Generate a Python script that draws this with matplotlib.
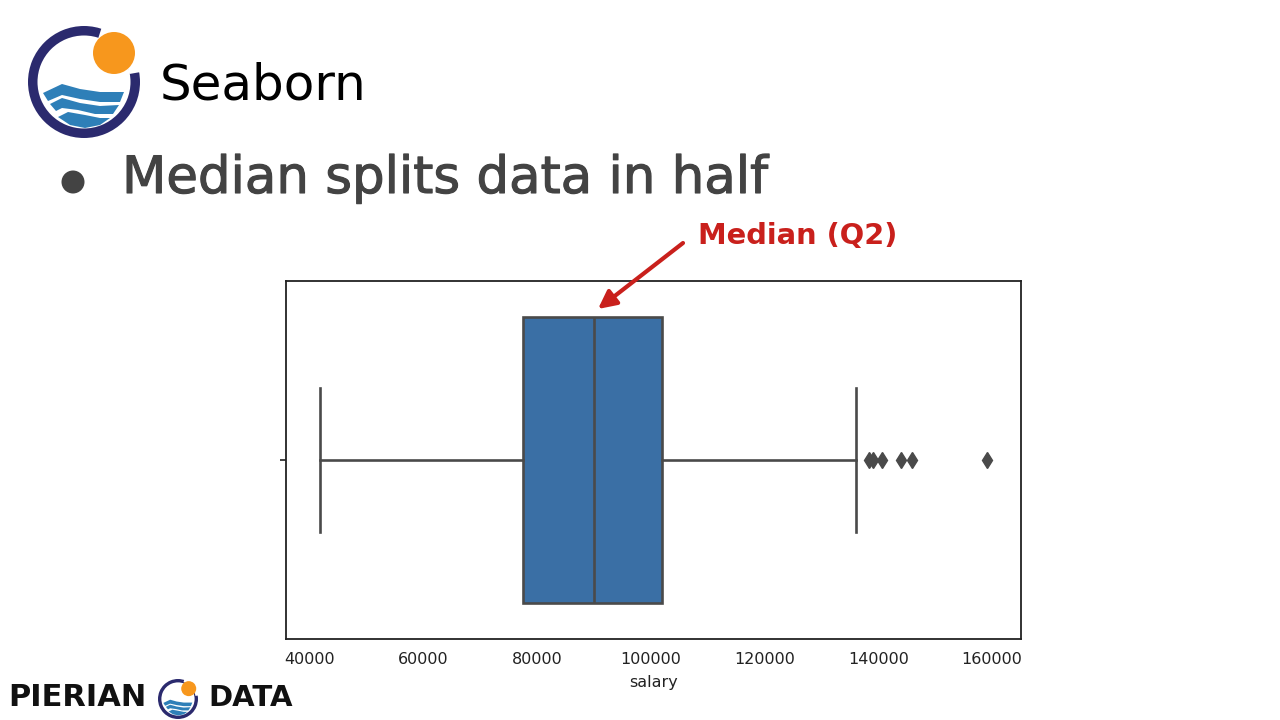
import matplotlib
matplotlib.use('Agg')
import matplotlib.pyplot as plt
import matplotlib.patheffects as pe
from matplotlib.patches import Circle, Polygon, Wedge, FancyArrowPatch

# box plot values
xlabel = 'salary'
whisker_low = 41700
q1 = 77550
median = 89970
q3 = 101850
whisker_high = 136070
outliers = [138440, 139000, 140640, 144000, 146000, 159100]
xticks = [40000, 60000, 80000, 100000, 120000, 140000, 160000]

slide_title = 'Seaborn'
bullet_text = 'Median splits data in half'
callout = 'Median (Q2)'

box_color = '#3a6fa5'
line_color = '#4a4a4a'
navy = '#2b2a6e'
orange = '#f7971d'
wave_blue = '#2e7fb8'
red = '#c9201c'

W, H = 1280, 720
fig = plt.figure(figsize=(12.8, 7.2), dpi=100, facecolor='white')

# whole figure overlay in pixel coordinates for the slide furniture
bg = fig.add_axes([0, 0, 1, 1])
bg.set_xlim(0, W)
bg.set_ylim(H, 0)
bg.axis('off')
bg.set_zorder(5)


def draw_logo(ax, cx, cy, r):
    s = r / 56.0
    ax.add_patch(Wedge((cx, cy), r, 0, 360, width=9.5 * s, fc=navy, ec='none'))
    # white gap in the ring behind the sun
    ax.add_patch(Wedge((cx, cy), r + 2, -72, -10, width=12 * s, fc='white', ec='none'))
    ax.add_patch(Circle((cx + 30 * s, cy - 29 * s), 21 * s, fc=orange, ec='none'))
    bands = [
        [(43, 93), (62, 84), (80, 89), (100, 92), (124, 92), (120, 102), (100, 102), (80, 99), (62, 95), (48, 101)],
        [(50, 104), (62, 98), (80, 103), (100, 106), (119, 105), (113, 114), (95, 114), (78, 110), (62, 108), (56, 111)],
        [(58, 117), (68, 112), (85, 115), (100, 118), (110, 118), (100, 125), (85, 128), (70, 125)],
    ]
    for band in bands:
        pts = [(cx + (x - 84) * s, cy + (y - 82) * s) for x, y in band]
        ax.add_patch(Polygon(pts, closed=True, fc=wave_blue, ec='none'))


draw_logo(bg, 84, 82, 56)
bg.text(160, 85, slide_title, fontsize=36, color='black', va='center', ha='left')

bg.add_patch(Circle((73, 182), 11.5, fc='#434343', ec='none'))
bg.text(122, 179, bullet_text, fontsize=37, color='#434343', va='center', ha='left',
        path_effects=[pe.withStroke(linewidth=0.8, foreground='#434343')])

bg.text(698, 236, callout, fontsize=20.8, weight='bold', color=red, va='center', ha='left')
bg.add_patch(FancyArrowPatch((683, 243), (598, 309), arrowstyle='-|>', mutation_scale=27, lw=3,
                             color=red, shrinkA=0, shrinkB=0))

bg.text(8, 698, 'PIERIAN', fontsize=22, weight='bold', color='#111111', va='center', ha='left')
draw_logo(bg, 178, 699, 20)
bg.text(208, 698, 'DATA', fontsize=21, weight='bold', color='#111111', va='center', ha='left')

# the chart itself
ax = fig.add_axes([286 / W, (H - 639) / H, 735 / W, 358 / H])
stats = [{'whislo': whisker_low, 'q1': q1, 'med': median, 'q3': q3, 'whishi': whisker_high,
          'fliers': outliers, 'label': ''}]
ax.bxp(stats, positions=[0], widths=0.8, vert=False, patch_artist=True, capwidths=0.4,
       boxprops=dict(facecolor=box_color, edgecolor=line_color, linewidth=1.9),
       medianprops=dict(color=line_color, linewidth=1.9),
       whiskerprops=dict(color=line_color, linewidth=1.9),
       capprops=dict(color=line_color, linewidth=1.9),
       flierprops=dict(marker='d', markerfacecolor=line_color, markeredgecolor=line_color, markersize=8))
ax.set_xlim(35780, 165100)
ax.set_ylim(0.5, -0.5)
ax.set_xticks(xticks)
ax.set_yticks([0])
ax.set_yticklabels([''])
ax.tick_params(axis='x', labelsize=11.5, length=0, pad=9, labelcolor='#222222')
ax.tick_params(axis='y', length=4, width=1.2, color='#222222')
ax.set_xlabel(xlabel, fontsize=11.5, color='#222222', labelpad=6)
for sp in ax.spines.values():
    sp.set_linewidth(1.3)
    sp.set_color('#222222')

fig.savefig('out.png', dpi=100)
